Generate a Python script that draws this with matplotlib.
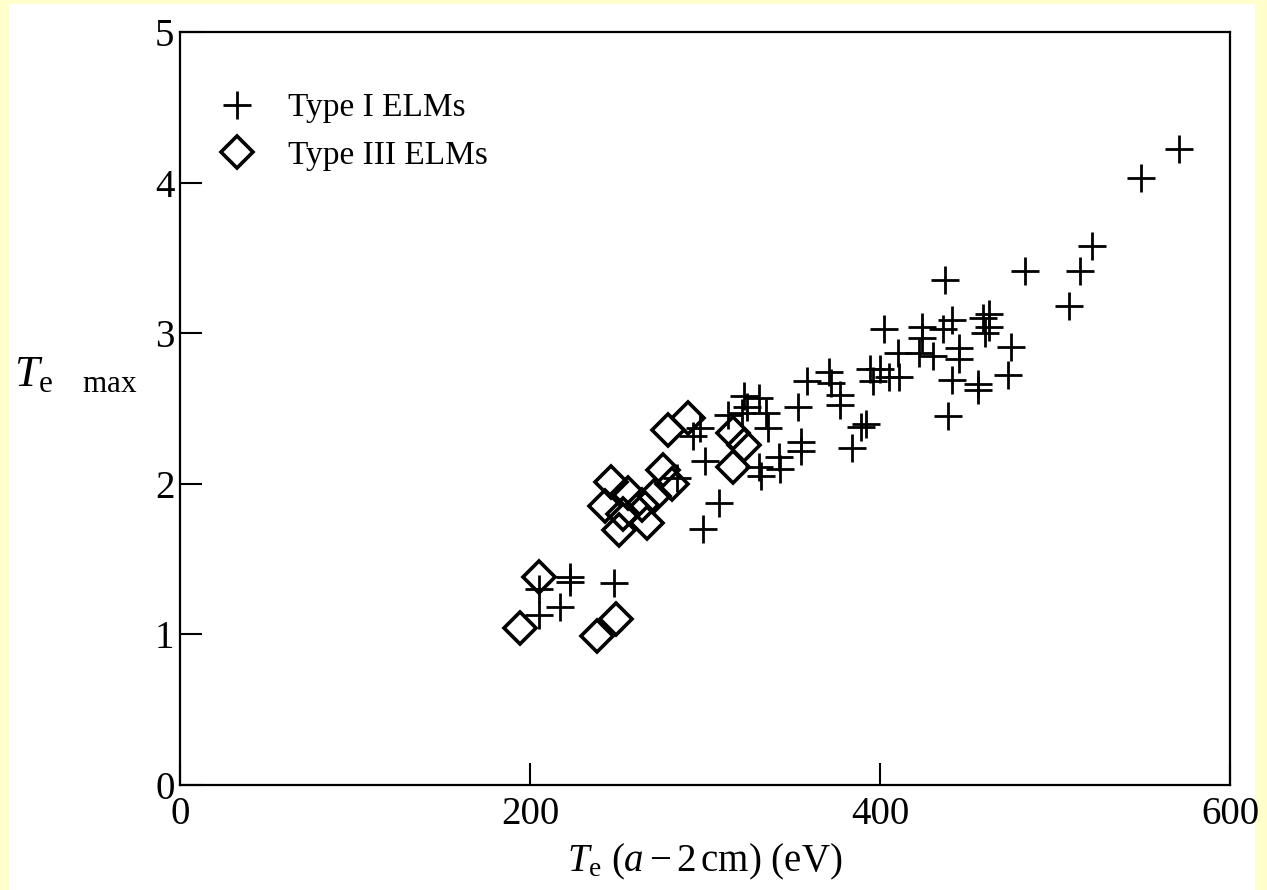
import matplotlib
matplotlib.use("Agg")
import matplotlib.pyplot as plt
from matplotlib.patches import Rectangle

plt.rcParams['font.family'] = ['Liberation Serif', 'DejaVu Serif']
plt.rcParams['mathtext.fontset'] = 'custom'
plt.rcParams['mathtext.rm'] = 'Liberation Serif'
plt.rcParams['mathtext.it'] = 'Liberation Serif:italic'

# Type I ELMs: edge temperature (eV) vs Te max
type1_te = [205, 205, 217, 223, 223, 248,
            284, 293, 297, 300, 299, 308, 313,
            321, 322, 324, 331, 335, 336, 331, 332, 342, 343,
            353, 355, 355, 358, 371, 372, 377, 377, 384, 389, 392,
            394, 396, 400, 402, 405, 410,
            411, 422, 424, 424, 430, 436, 437, 439, 441, 441, 445, 445,
            456, 456, 459, 460, 462, 462, 473, 475, 483,
            508, 514, 521, 549, 571]
type1_tmax = [1.30, 1.13, 1.18, 1.38, 1.35, 1.34,
              2.04, 2.32, 2.37, 2.15, 1.70, 1.87, 2.46,
              2.47, 2.58, 2.51, 2.57, 2.47, 2.37, 2.11, 2.05, 2.18, 2.10,
              2.51, 2.28, 2.22, 2.68, 2.74, 2.67, 2.59, 2.52, 2.24, 2.38, 2.40,
              2.76, 2.68, 2.76, 3.03, 2.71, 2.87,
              2.71, 2.87, 3.04, 2.97, 2.85, 3.03, 3.35, 2.45, 3.09, 2.69, 2.90, 2.83,
              2.66, 2.62, 3.10, 3.00, 3.04, 3.13, 2.72, 2.91, 3.41,
              3.18, 3.41, 3.58, 4.03, 4.22]

# Type III ELMs
type3_te = [194, 205, 238, 249, 243, 246, 251, 253, 256, 264, 267,
            271, 276, 279, 281, 290, 316, 322, 316]
type3_tmax = [1.04, 1.38, 0.99, 1.10, 1.85, 2.01, 1.69, 1.80, 1.94, 1.86, 1.74,
              1.92, 2.09, 2.36, 2.00, 2.44, 2.34, 2.26, 2.11]

x_ticks = [0, 200, 400, 600]
y_ticks = [0, 1, 2, 3, 4, 5]

fig = plt.figure(figsize=(12.67, 8.9), dpi=100, facecolor='#FFFFCC')
# white page inside the thin yellow border
fig.patches.append(Rectangle((9 / 1267, 0), (1255 - 9) / 1267, (890 - 4) / 890,
                             transform=fig.transFigure, facecolor='white',
                             edgecolor='none', zorder=-10))
ax = fig.add_axes([180 / 1267, 1 - 785 / 890, 1050 / 1267, 753 / 890])
ax.set_zorder(1)
ax.set_facecolor('white')

ax.plot(type1_te, type1_tmax, linestyle='none', marker='+', markersize=20,
        markeredgewidth=2.0, color='black', label='Type I ELMs')
ax.plot(type3_te, type3_tmax, linestyle='none', marker='D', markersize=16,
        markeredgewidth=2.6, markerfacecolor='none', markeredgecolor='black',
        label='Type III ELMs')

ax.set_xlim(0, 600)
ax.set_ylim(0, 5)
ax.set_xticks(x_ticks)
ax.set_yticks(y_ticks)
ax.tick_params(direction='in', length=16, width=1.5, labelsize=28, pad=4)
ax.tick_params(axis='x', pad=8)
for sp in ax.spines.values():
    sp.set_linewidth(1.6)

ax.set_xlabel(r'$T_{\mathrm{e}}\ (a - 2\,\mathrm{cm})$ (eV)', fontsize=28,
              va='center')
ax.xaxis.set_label_coords(0.5, -0.102)
ax.set_ylabel(r'$T_{\mathrm{e\ \ \ \ max}}$', fontsize=32, rotation=0,
              ha='left', va='center')
ax.yaxis.set_label_coords(-0.158, 0.545)

ax.legend(loc='upper left', bbox_to_anchor=(0.0257, 0.937), frameon=False,
          fontsize=24, handlelength=1.0, handletextpad=1.03,
          labelspacing=0.51, borderaxespad=0)

fig.savefig('out.png', dpi=100, facecolor=fig.get_facecolor())
